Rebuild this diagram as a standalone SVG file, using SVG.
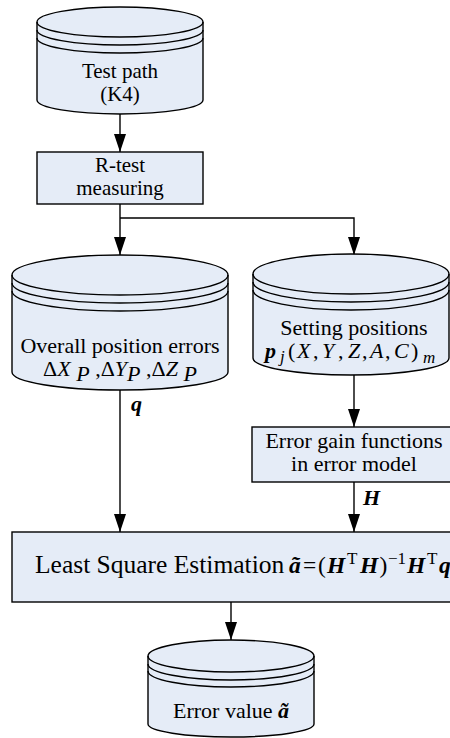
<svg xmlns="http://www.w3.org/2000/svg" width="450" height="738" viewBox="0 0 450 738" font-family="'Liberation Serif', 'Times New Roman', serif" font-size="22">
  <defs>
    <marker id="arrow" markerUnits="userSpaceOnUse" markerWidth="18" markerHeight="12" refX="18" refY="6" orient="auto">
      <path d="M0,0 L18,6 L0,12 Z" fill="#000"/>
    </marker>
  </defs>
  <style>
    .shape { fill: #e5ecf7; stroke: #000; stroke-width: 1.4; }
    .line { fill: none; stroke: #000; stroke-width: 1.4; }
    .edge { fill: none; stroke: #000; stroke-width: 1.4; }
    .arrowed { marker-end: url(#arrow); }
    .t { font-family: 'Liberation Serif', 'Times New Roman', serif; font-size: 22px; fill: #000; }
    .sm { font-size: 21px; }
    .big { font-size: 25.5px; }
    .eq { font-size: 23.5px; }
    .c { text-anchor: middle; }
    .i { font-style: italic; }
    .bi { font-style: italic; font-weight: bold; }
    .sub { font-size: 17px; }
    .sup { font-size: 17px; }
  </style>

  <rect width="450" height="738" fill="#fff"/>

  <!-- connectors -->
  <g id="connectors">
    <path class="edge arrowed" d="M120,114 L120,152"/>
    <path class="edge arrowed" d="M120,204 L120,255"/>
    <path class="edge arrowed" d="M120,218 L354,218 L354,255"/>
    <path class="edge arrowed" d="M354,375 L354,427"/>
    <path class="edge arrowed" d="M354,482 L354,532"/>
    <path class="edge arrowed" d="M120,390 L120,532"/>
    <path class="edge arrowed" d="M231,602 L231,640"/>
    <text class="t bi" x="131" y="411">q</text>
    <text class="t bi" x="363" y="505">H</text>
  </g>

  <!-- Test path store -->
  <g id="test-path">
    <path class="shape" d="M37,22 L37,100 A83,14 0 0 0 203,100 L203,22 A83,15 0 0 0 37,22 Z"/>
    <path class="line" d="M37,22 A83,15 0 0 0 203,22 M37,30 A83,15 0 0 0 203,30 M37,38 A83,15 0 0 0 203,38"/>
    <text class="t sm c" x="120" y="78">Test path</text>
    <text class="t sm c" x="120" y="101">(K4)</text>
  </g>

  <!-- R-test measuring -->
  <g id="r-test">
    <rect class="shape" x="37" y="152" width="166" height="52"/>
    <text class="t sm c" x="120" y="172">R-test</text>
    <text class="t sm c" x="120" y="195">measuring</text>
  </g>

  <!-- Overall position errors store -->
  <g id="position-errors">
    <path class="shape" d="M12,275 L12,372 A108,18 0 0 0 228,372 L228,275 A108,20 0 0 0 12,275 Z"/>
    <path class="line" d="M12,275 A108,20 0 0 0 228,275 M12,283 A108,20 0 0 0 228,283 M12,291 A108,20 0 0 0 228,291"/>
    <text class="t c" x="120" y="353">Overall position errors</text>
    <text class="t c" x="120" y="376">Δ<tspan class="i">X</tspan> <tspan class="i" dy="5">P</tspan><tspan dy="-5"> ,Δ</tspan><tspan class="i">Y</tspan><tspan class="i" dy="5">P</tspan><tspan dy="-5"> ,Δ</tspan><tspan class="i">Z</tspan> <tspan class="i" dy="5">P</tspan></text>
  </g>

  <!-- Setting positions store -->
  <g id="setting-positions">
    <path class="shape" d="M253,274 L253,358 A98,17 0 0 0 449,358 L449,274 A98,20 0 0 0 253,274 Z"/>
    <path class="line" d="M253,274 A98,20 0 0 0 449,274 M253,282 A98,20 0 0 0 449,282 M253,290 A98,20 0 0 0 449,290"/>
    <text class="t c" x="354" y="335">Setting positions</text>
    <text class="t" y="358"><tspan class="bi" x="265">p</tspan><tspan class="i sub" x="280" dy="4">j</tspan><tspan x="288" dy="-4">(</tspan><tspan class="i" x="297">X</tspan><tspan x="313">,</tspan><tspan class="i" x="322">Y</tspan><tspan x="338">,</tspan><tspan class="i" x="348">Z</tspan><tspan x="362">,</tspan><tspan class="i" x="370">A</tspan><tspan x="385">,</tspan><tspan class="i" x="394">C</tspan><tspan x="411">)</tspan><tspan class="i sub" x="423" dy="5">m</tspan></text>
  </g>

  <!-- Error gain functions -->
  <g id="gain-functions">
    <rect class="shape" x="252" y="427" width="204" height="55"/>
    <text class="t c" x="354" y="448">Error gain functions</text>
    <text class="t c" x="354" y="471">in error model</text>
  </g>

  <!-- Least square estimation -->
  <g id="least-squares">
    <rect class="shape" x="12" y="532" width="444" height="70"/>
    <text class="t big" y="573"><tspan x="35">Least Square Estimation</tspan><tspan class="bi eq" x="289">ã</tspan><tspan class="eq" x="303">=</tspan><tspan class="eq" x="318">(</tspan><tspan class="bi eq" x="327">H</tspan><tspan class="sup" x="347" dy="-9">T</tspan><tspan class="bi eq" x="360" dy="9">H</tspan><tspan class="eq" x="379.5">)</tspan><tspan class="sup" x="388" dy="-9">−1</tspan><tspan class="bi eq" x="407" dy="9">H</tspan><tspan class="sup" x="427" dy="-9">T</tspan><tspan class="bi eq" x="439" dy="9">q</tspan></text>
  </g>

  <!-- Error value store -->
  <g id="error-value">
    <path class="shape" d="M148,656 L148,724 A83,13 0 0 0 314,724 L314,656 A83,16 0 0 0 148,656 Z"/>
    <path class="line" d="M148,656 A83,16 0 0 0 314,656 M148,664 A83,16 0 0 0 314,664 M148,671 A83,16 0 0 0 314,671"/>
    <text class="t c" x="231" y="718">Error value  <tspan class="bi">ã</tspan></text>
  </g>
</svg>
